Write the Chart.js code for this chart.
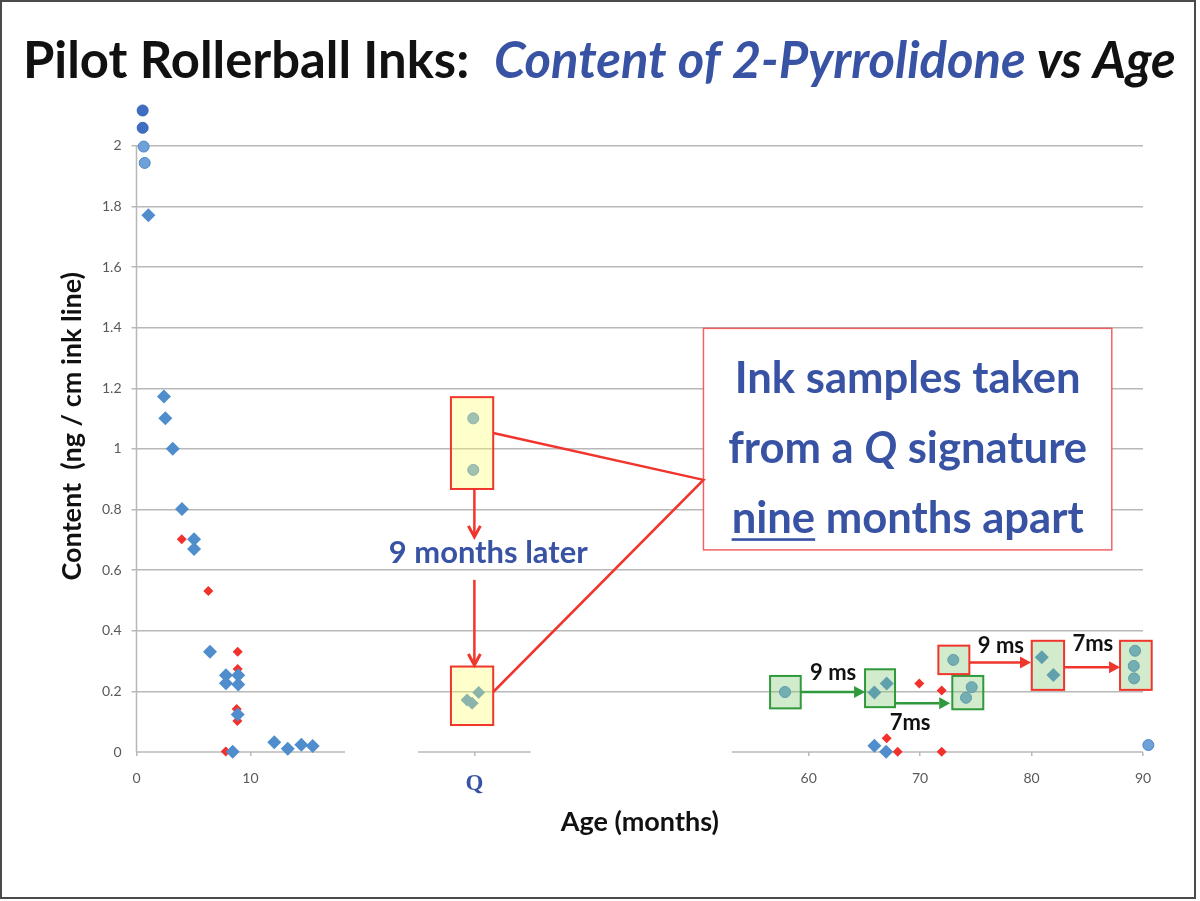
<!DOCTYPE html>
<html>
<head>
<meta charset="utf-8">
<title>Pilot Rollerball Inks</title>
<script src="https://cdn.jsdelivr.net/npm/chart.js@4.4.1/dist/chart.umd.min.js"></script>
<style>
  html, body { margin: 0; padding: 0; background: #fff; }
  #wrap { width: 1200px; height: 901px; position: relative; }
</style>
</head>
<body>
<div id="wrap"><canvas id="inkChart"></canvas></div>
<script>
const FONT = 'Lato, "Open Sans", sans-serif';
const TEXT_BLUE = '#3953a4';
const RED = '#f0352c';
const GREEN = '#2f9a3c';
const GRID = '#b8b8b8';

// ages in months; the questioned signature "Q" has no age and sits at Q_POS
const Q_POS = 40;
const xTicks = [0, 10, Q_POS, 60, 70, 80, 90];
const Y_TOP_TICK = 2;

const darkCircleAge = [0.54, 0.54];
const darkCircleVal = [2.117, 2.060];

const circleAge = [0.63, 0.72, 57.88, 74.63, 74.12, 72.98, 89.29, 89.17, 89.2, 90.48];
const circleVal = [1.998, 1.944, 0.198, 0.214, 0.179, 0.304, 0.334, 0.284, 0.243, 0.023];

const diamondAge = [1.04, 2.41, 2.53, 3.18, 3.99, 5.05, 5.05, 6.45, 7.85, 7.85, 8.93, 8.93, 8.88, 8.44,
                    12.09, 13.27, 14.46, 15.46, 65.9, 67.0, 80.92, 81.96, 65.9, 66.95];
const diamondVal = [1.771, 1.173, 1.101, 1.001, 0.802, 0.702, 0.670, 0.331, 0.253, 0.227, 0.253, 0.223, 0.124, 0.001,
                    0.032, 0.011, 0.024, 0.020, 0.196, 0.226, 0.313, 0.254, 0.021, 0.001];

const redAge = [3.97, 6.30, 8.88, 8.88, 8.79, 8.85, 7.83, 69.93, 71.94, 67.0, 67.99, 71.94];
const redVal = [0.702, 0.531, 0.331, 0.274, 0.142, 0.102, 0.002, 0.226, 0.203, 0.045, 0.001, 0.001];

const qFirstPos = [39.9, 39.9];
const qFirstVal = [1.101, 0.931];
const qLaterPos = [39.35, 39.8, 40.38];
const qLaterVal = [0.172, 0.161, 0.196];

const toPoints = (xs, ys) => xs.map((x, i) => ({ x: x, y: ys[i] }));

// broken x axis: value -> fraction of plot width, the empty stretches are squeezed
const BREAKS = [[0, 0], [18.3, 0.2072], [35, 0.2797], [45, 0.3917], [53.1, 0.5914], [90, 1]];
const AXIS_PIECES = [[0, 18.3], [35, 45], [53.1, 90]];

function valueToFrac(v) {
    let i = 0;
    while (i < BREAKS.length - 2 && v > BREAKS[i + 1][0]) i++;
    const a = BREAKS[i], b = BREAKS[i + 1];
    return a[1] + (v - a[0]) * (b[1] - a[1]) / (b[0] - a[0]);
}
function fracToValue(f) {
    let i = 0;
    while (i < BREAKS.length - 2 && f > BREAKS[i + 1][1]) i++;
    const a = BREAKS[i], b = BREAKS[i + 1];
    return a[0] + (f - a[1]) * (b[0] - a[0]) / (b[1] - a[1]);
}

class BrokenScale extends Chart.LinearScale {
    getPixelForValue(value) {
        return this.left + this.width * valueToFrac(value);
    }
    getValueForPixel(pixel) {
        return fracToValue((pixel - this.left) / this.width);
    }
}
BrokenScale.id = 'broken';
BrokenScale.defaults = Chart.LinearScale.defaults;
Chart.register(BrokenScale);

// annotation shapes, in axis units
const yellowBoxes = [[37.92, 41.67, 1.171, 0.868], [37.92, 41.67, 0.282, 0.089]];
const greenBoxes = [[56.54, 59.29, 0.251, 0.144], [65.06, 67.75, 0.273, 0.148], [72.89, 75.67, 0.251, 0.141]];
const redBoxes = [[71.64, 74.42, 0.351, 0.257], [80.02, 82.92, 0.367, 0.205], [87.94, 90.78, 0.367, 0.205]];

function fontOf(run, size) {
    return (run.italic ? 'italic ' : '') + 'bold ' + size + 'px ' + (run.family || FONT);
}
function runsWidth(ctx, runs, size) {
    let w = 0;
    runs.forEach(r => { ctx.font = fontOf(r, size); w += ctx.measureText(r.t).width; });
    return w;
}
function drawRuns(ctx, runs, size, x, y, align) {
    const w = runsWidth(ctx, runs, size);
    let cx = align === 'center' ? x - w / 2 : x;
    ctx.textBaseline = 'alphabetic';
    ctx.textAlign = 'left';
    runs.forEach(r => {
        ctx.font = fontOf(r, size);
        ctx.fillStyle = r.color;
        ctx.fillText(r.t, cx, y);
        const rw = ctx.measureText(r.t).width;
        if (r.underline) {
            ctx.fillRect(cx, y + size * 0.12, rw, Math.max(2, size * 0.06));
        }
        cx += rw;
    });
}

function arrow(ctx, x1, y1, x2, y2, color, open) {
    const ang = Math.atan2(y2 - y1, x2 - x1);
    const len = 11, half = 6;
    ctx.save();
    ctx.strokeStyle = color;
    ctx.fillStyle = color;
    ctx.lineWidth = 2.5;
    ctx.beginPath();
    ctx.moveTo(x1, y1);
    ctx.lineTo(open ? x2 : x2 - len * Math.cos(ang), open ? y2 : y2 - len * Math.sin(ang));
    ctx.stroke();
    const bx = x2 - len * Math.cos(ang), by = y2 - len * Math.sin(ang);
    const nx = -Math.sin(ang) * half, ny = Math.cos(ang) * half;
    ctx.beginPath();
    ctx.moveTo(bx + nx, by + ny);
    ctx.lineTo(x2, y2);
    ctx.lineTo(bx - nx, by - ny);
    if (open) {
        ctx.lineWidth = 3;
        ctx.stroke();
    } else {
        ctx.closePath();
        ctx.fill();
    }
    ctx.restore();
}

const decor = {
    id: 'decor',
    beforeDatasetsDraw(chart) {
        const { ctx, scales: { x, y } } = chart;
        ctx.save();
        ctx.strokeStyle = GRID;
        ctx.lineWidth = 1.5;
        // x axis line only under the three populated pieces
        const y0 = y.getPixelForValue(0);
        AXIS_PIECES.forEach(p => {
            ctx.beginPath();
            ctx.moveTo(x.getPixelForValue(p[0]), y0);
            ctx.lineTo(x.getPixelForValue(p[1]), y0);
            ctx.stroke();
        });
        // y axis line stops at the top tick
        ctx.beginPath();
        ctx.moveTo(x.left, y0);
        ctx.lineTo(x.left, y.getPixelForValue(Y_TOP_TICK));
        ctx.stroke();
        ctx.restore();
    },
    afterDatasetsDraw(chart) {
        const { ctx, scales: { x, y } } = chart;
        const box = (b, fill, stroke) => {
            const l = x.getPixelForValue(b[0]), r = x.getPixelForValue(b[1]);
            const t = y.getPixelForValue(b[2]), btm = y.getPixelForValue(b[3]);
            ctx.fillStyle = fill;
            ctx.fillRect(l, t, r - l, btm - t);
            ctx.strokeStyle = stroke;
            ctx.lineWidth = 2;
            ctx.strokeRect(l, t, r - l, btm - t);
        };
        ctx.save();
        yellowBoxes.forEach(b => box(b, 'rgba(255,255,110,0.35)', RED));
        greenBoxes.forEach(b => box(b, 'rgba(126,198,112,0.35)', GREEN));
        redBoxes.forEach(b => box(b, 'rgba(126,198,112,0.35)', RED));

        const X = v => x.getPixelForValue(v), Y = v => y.getPixelForValue(v);

        // the two Q samples
        arrow(ctx, X(40), Y(0.868), X(40), Y(0.71), RED, true);
        arrow(ctx, X(40), Y(0.568), X(40), Y(0.287), RED, true);
        const later = [{ t: '9 months later', color: TEXT_BLUE }];
        drawRuns(ctx, later, 28 * 199 / runsWidth(ctx, later, 28), X(41.23), Y(0.624), 'center');

        // re-sampled ink, months between samplings
        arrow(ctx, X(59.29), Y(0.198), X(65.06), Y(0.198), GREEN, false);
        arrow(ctx, X(67.75), Y(0.161), X(72.7), Y(0.161), GREEN, false);
        arrow(ctx, X(74.42), Y(0.295), X(79.95), Y(0.295), RED, false);
        arrow(ctx, X(82.92), Y(0.28), X(87.94), Y(0.28), RED, false);
        const small = t => [{ t: t, color: '#111' }];
        drawRuns(ctx, small('9 ms'), 22, X(62.2), Y(0.239), 'center');
        drawRuns(ctx, small('7ms'), 22, X(69.1), Y(0.072), 'center');
        drawRuns(ctx, small('9 ms'), 22, X(77.25), Y(0.327), 'center');
        drawRuns(ctx, small('7ms'), 22, X(85.5), Y(0.334), 'center');

        // callout
        const cl = X(51.96), cr = X(87.2), ct = Y(1.398), cb = Y(0.667);
        ctx.fillStyle = '#fff';
        ctx.fillRect(cl, ct, cr - cl, cb - ct);
        ctx.strokeStyle = 'rgba(240,70,70,0.85)';
        ctx.lineWidth = 1.5;
        ctx.strokeRect(cl, ct, cr - cl, cb - ct);
        ctx.strokeStyle = RED;
        ctx.lineWidth = 2.5;
        ctx.beginPath();
        ctx.moveTo(X(41.67), Y(1.053));
        ctx.lineTo(X(51.96), Y(0.898));
        ctx.lineTo(X(41.67), Y(0.198));
        ctx.stroke();

        const lines = [
            [{ t: 'Ink samples taken', color: TEXT_BLUE }],
            [{ t: 'from a ', color: TEXT_BLUE }, { t: 'Q', italic: true, color: TEXT_BLUE }, { t: ' signature', color: TEXT_BLUE }],
            [{ t: 'nine', underline: true, color: TEXT_BLUE }, { t: ' months apart', color: TEXT_BLUE }]
        ];
        const cs = 40 * 359 / runsWidth(ctx, lines[1], 40);
        const cx = (cl + cr) / 2;
        [393, 463, 533].forEach((base, i) => drawRuns(ctx, lines[i], cs, cx, base, 'center'));
        ctx.restore();
    },
    afterDraw(chart) {
        const { ctx } = chart;
        ctx.save();
        const title = [
            { t: 'Pilot Rollerball Inks:  ', color: '#111' },
            { t: 'Content of 2-Pyrrolidone', italic: true, color: TEXT_BLUE },
            { t: ' vs Age', italic: true, color: '#111' }
        ];
        const ts = 50 * 1153 / runsWidth(ctx, title, 50);
        drawRuns(ctx, title, ts, 23, 78, 'left');
        ctx.strokeStyle = '#4a4a4a';
        ctx.lineWidth = 2;
        ctx.strokeRect(1, 1, 1194, 897);
        ctx.restore();
    }
};

const ctx = document.getElementById('inkChart').getContext('2d');
new Chart(ctx, {
    type: 'scatter',
    data: {
        datasets: [{
            label: 'Pilot inks (early)',
            data: toPoints(darkCircleAge, darkCircleVal),
            pointStyle: 'circle',
            pointRadius: 5.5,
            backgroundColor: '#3f6dc1',
            borderColor: '#3562b5',
            borderWidth: 1,
            clip: false,
            order: 1
        }, {
            label: 'Pilot inks (circles)',
            data: toPoints(circleAge, circleVal),
            pointStyle: 'circle',
            pointRadius: 5.5,
            backgroundColor: '#6ea1d8',
            borderColor: '#4f86c6',
            borderWidth: 1,
            clip: false,
            order: 1
        }, {
            label: 'Pilot inks (diamonds)',
            data: toPoints(diamondAge, diamondVal),
            pointStyle: 'rectRot',
            pointRadius: 7,
            backgroundColor: '#4f8dcc',
            borderWidth: 0,
            clip: false,
            order: 2
        }, {
            label: 'Other inks',
            data: toPoints(redAge, redVal),
            pointStyle: 'rectRot',
            pointRadius: 5,
            backgroundColor: '#f2312b',
            borderWidth: 0,
            clip: false,
            order: 3
        }, {
            label: 'Q first sampling',
            data: toPoints(qFirstPos, qFirstVal),
            pointStyle: 'circle',
            pointRadius: 5.5,
            backgroundColor: '#6ea1d8',
            borderColor: '#4f86c6',
            borderWidth: 1,
            clip: false,
            order: 1
        }, {
            label: 'Q nine months later',
            data: toPoints(qLaterPos, qLaterVal),
            pointStyle: 'rectRot',
            pointRadius: 6.5,
            backgroundColor: '#4f8dcc',
            borderWidth: 0,
            clip: false,
            order: 1
        }]
    },
    options: {
        responsive: true,
        maintainAspectRatio: false,
        animation: false,
        events: [],
        // plot runs up to 2.15 so the two early points above 2 still get drawn
        layout: { padding: { top: 100.5, right: 57, bottom: 0, left: 0 } },
        plugins: { legend: { display: false }, tooltip: { enabled: false } },
        scales: {
            x: {
                type: 'broken',
                min: 0,
                max: 90,
                afterBuildTicks: s => { s.ticks = xTicks.map(v => ({ value: v })); },
                afterFit: s => { s.height = 149; },
                border: { display: false },
                grid: { drawOnChartArea: false, drawTicks: true, tickLength: 4, color: GRID, lineWidth: 1.5 },
                ticks: {
                    autoSkip: false,
                    maxRotation: 0,
                    padding: 14,
                    callback: v => v === Q_POS ? 'Q' : String(v),
                    color: c => c.tick && c.tick.value === Q_POS ? TEXT_BLUE : '#595959',
                    font: c => c.tick && c.tick.value === Q_POS
                        ? { family: '"Liberation Serif", "DejaVu Serif", serif', size: 23, weight: 'bold' }
                        : { family: FONT, size: 14 }
                },
                title: {
                    display: true,
                    text: 'Age (months)',
                    color: '#111',
                    font: { family: FONT, size: 27, weight: 'bold' },
                    padding: { top: 0, bottom: 62.8 }
                }
            },
            y: {
                min: 0,
                max: 2.15,
                afterBuildTicks: s => { s.ticks = s.ticks.filter(t => t.value <= Y_TOP_TICK + 1e-6); },
                afterFit: s => { s.width = 136.5; },
                border: { display: false },
                grid: {
                    color: c => c.tick && c.tick.value === 0 ? 'rgba(0,0,0,0)' : GRID,
                    lineWidth: 1.5,
                    tickLength: 5
                },
                ticks: {
                    stepSize: 0.2,
                    padding: 10,
                    color: '#595959',
                    font: { family: FONT, size: 14 },
                    callback: v => String(+v.toFixed(1))
                },
                title: {
                    display: true,
                    text: 'Content  (ng / cm ink line)',
                    color: '#111',
                    font: { family: FONT, size: 27, weight: 'bold' },
                    padding: { top: 55.8, bottom: 0 }
                }
            }
        }
    },
    plugins: [decor]
});
</script>
</body>
</html>
